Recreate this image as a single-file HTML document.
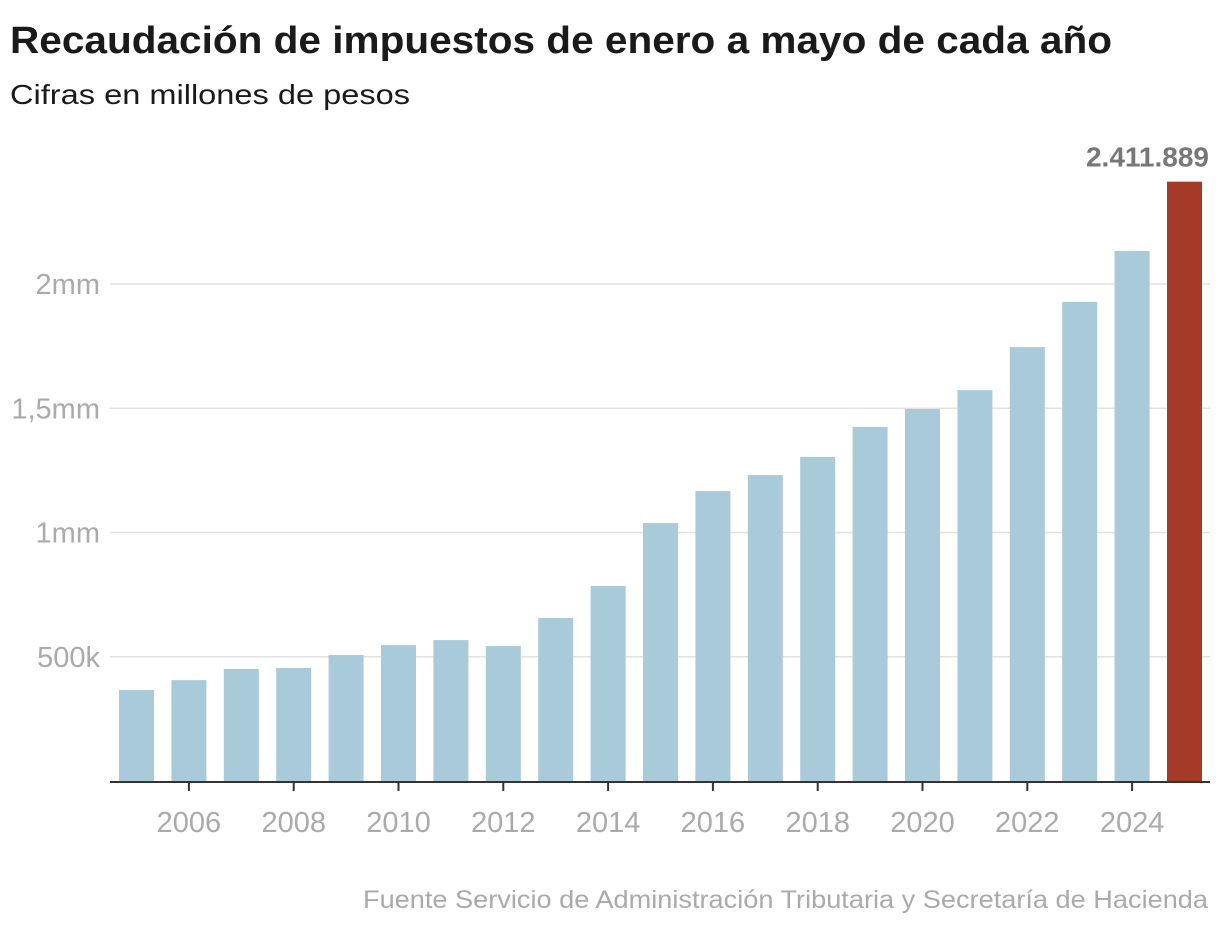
<!DOCTYPE html>
<html><head><meta charset="utf-8"><style>
body{margin:0;background:#fff;font-family:"Liberation Sans",sans-serif;}
</style></head><body>
<svg width="1220" height="928">
<text x="10" y="53" font-size="38" font-weight="bold" fill="#1a1a1a" textLength="1102" lengthAdjust="spacingAndGlyphs">Recaudación de impuestos de enero a mayo de cada año</text>
<text x="10" y="104" font-size="28" fill="#1a1a1a" textLength="400" lengthAdjust="spacingAndGlyphs">Cifras en millones de pesos</text>
<g id="grid"></g><g id="bars"></g><g id="xaxis"></g>
<text x="1208" y="908" text-anchor="end" font-size="25" fill="#aaa" textLength="845" lengthAdjust="spacingAndGlyphs">Fuente Servicio de Administración Tributaria y Secretaría de Hacienda</text>
</svg>
<script>
const years=[2005,2006,2007,2008,2009,2010,2011,2012,2013,2014,2015,2016,2017,2018,2019,2020,2021,2022,2023,2024,2025];
const values=[366000,406000,451000,455000,507000,547000,567000,543000,656000,785000,1038000,1167000,1231000,1304000,1425000,1497000,1573000,1746000,1928000,2133000,2411889];
const yTicks=[500000,1000000,1500000,2000000];
const yTickLabels=["500k","1mm","1,5mm","2mm"];
const ns="http://www.w3.org/2000/svg";
const base=781,pxPer=248.5/1e6;
const y=v=>base-v*pxPer;
const x0=119,pitch=52.4,bw=35;
const x=i=>x0+i*pitch;
function mk(t,a,p){const e=document.createElementNS(ns,t);for(const k in a)e.setAttribute(k,a[k]);p.appendChild(e);return e;}
const g=document.getElementById('grid'),b=document.getElementById('bars'),xa=document.getElementById('xaxis');
yTicks.forEach((v,i)=>{
 const l=mk('line',{x1:110,x2:1210,y1:y(v),y2:y(v),stroke:'#e2e2e2','stroke-width':1.5},g);
 
 
 const t=mk('text',{x:100,y:y(v)+10,'text-anchor':'end','font-size':29,fill:'#aaa'},g);
 t.textContent=yTickLabels[i];
 
 
});
values.forEach((v,i)=>{
 const last=i===values.length-1;
 const r=mk('rect',{x:x(i),y:y(v),width:bw,height:base-y(v),fill:last?'#a63a29':'#a8cad9'},b);
 
 
 if(last){
  const t=mk('text',{x:1209,y:y(v)-15,'text-anchor':'end','font-size':28,'font-weight':'bold',fill:'#777'},b);
  t.textContent=v.toLocaleString('de-DE');
  
  
 }
});
const ax=mk('line',{x1:110,x2:1210,y1:base+1,y2:base+1,stroke:'#333','stroke-width':2},xa);


years.forEach((yr,i)=>{
 if(yr%2)return;
 const c=x(i)+bw/2;
 const tk=mk('line',{x1:c,x2:c,y1:base+1,y2:base+10,stroke:'#333','stroke-width':2},xa);
 
 
 const t=mk('text',{x:c,y:832,'text-anchor':'middle','font-size':29,fill:'#aaa'},xa);
 t.textContent=yr;
 
 
});
</script>
</body></html>
